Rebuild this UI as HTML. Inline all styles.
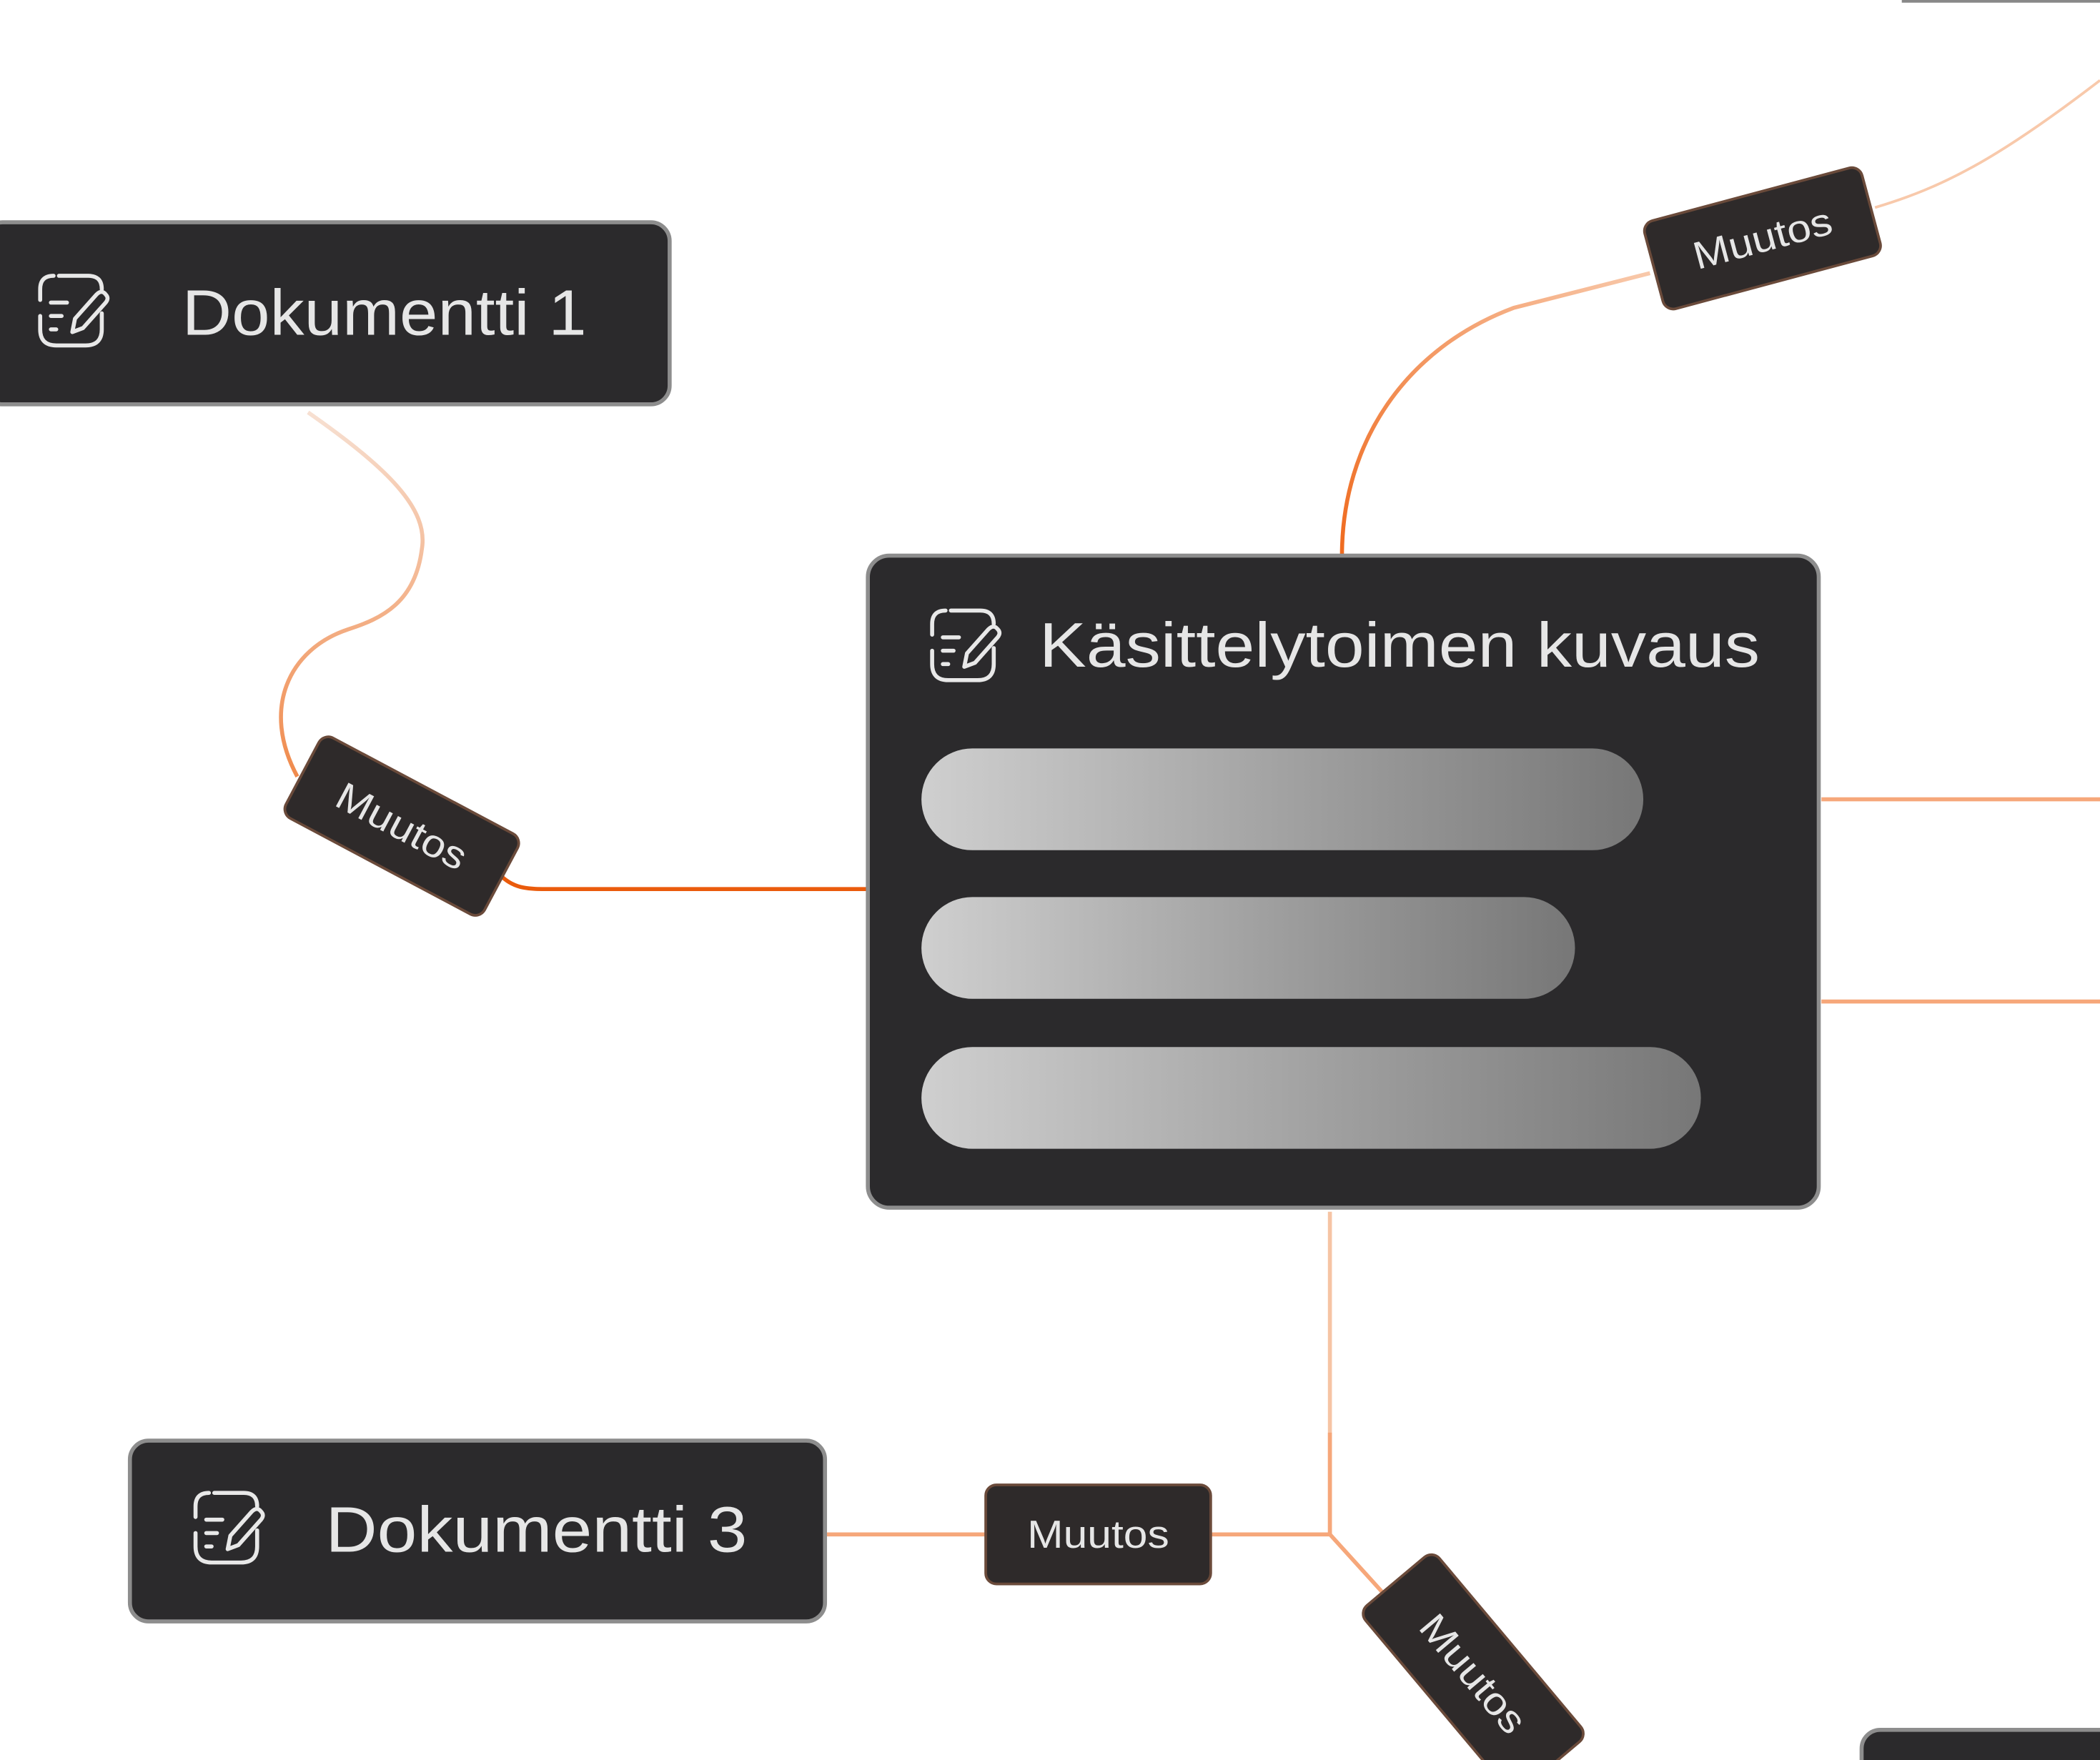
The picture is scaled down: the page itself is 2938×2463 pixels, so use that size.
<!DOCTYPE html>
<html><head><meta charset="utf-8"><style>
html,body{margin:0;padding:0;background:#fff;}
svg{display:block;}
text{font-family:"Liberation Sans",sans-serif;fill:#e6e6e6;}
</style></head><body>
<svg width="2938" height="2463" viewBox="0 0 1568 1314.5" preserveAspectRatio="none" xmlns="http://www.w3.org/2000/svg">
<defs>
<linearGradient id="bar" x1="0" x2="1" y1="0" y2="0">
<stop offset="0" stop-color="#cfcfcf"/><stop offset="0.5" stop-color="#a2a2a2"/><stop offset="1" stop-color="#777"/>
</linearGradient>
<linearGradient id="c1" x1="0" y1="0" x2="0" y2="1" gradientUnits="objectBoundingBox">
<stop offset="0" stop-color="#f7e0d2"/><stop offset="1" stop-color="#f08a4c"/>
</linearGradient>
<linearGradient id="c2" x1="0" y1="1" x2="1" y2="0">
<stop offset="0" stop-color="#ef6a1e"/><stop offset="1" stop-color="#f8c9ab"/>
</linearGradient>
<g id="icon" fill="none" stroke="#e8e8e8" stroke-width="3" stroke-linecap="round" stroke-linejoin="round">
<path d="M-8,-26 H14 Q24,-26 24,-16 M-22,-8 V-16 Q-22,-26 -12,-26"/>
<path d="M-22,4 V14 Q-22,26 -10,26 H12 Q24,26 24,14 V2"/>
<path d="M-14,-6 H-2 M-14,4 H-6 M-14,14 H-10"/>
<path d="M2,16 L4,6 L20,-12 Q24,-16 27,-12 Q30,-9 26,-5 L10,13 Z"/>
</g>
</defs>

<path d="M230,308 C290,350 320,380 315,410 C310,450 285,462 260,470 C215,485 195,530 222,580" fill="none" stroke="url(#c1)" stroke-width="3"/>
<path d="M375,655 C385,664 395,664 410,664 L648,664" fill="none" stroke="#ea5b0c" stroke-width="3"/>
<path d="M1002,415 C1002,330 1050,260 1130,230 L1232,204" fill="none" stroke="url(#c2)" stroke-width="3"/>
<path d="M1400,155 C1450,140 1490,120 1568,60" fill="none" stroke="#f8c9ab" stroke-width="2"/>
<path d="M1360,597 H1568 M1360,748 H1568" stroke="#f6a77a" stroke-width="3"/>
<path d="M993,905 V1146" stroke="#f6c4a4" stroke-width="3"/>
<path d="M993,1070 V1146 H904 M736,1146 H616 M993,1146 L1042,1200" fill="none" stroke="#f6a77a" stroke-width="3"/>
<path d="M1420,1 H1568" stroke="#888" stroke-width="2"/>

<rect x="-12" y="166" width="512" height="136" rx="14" fill="#2b2a2c" stroke="#8d8d8d" stroke-width="3"/>
<use href="#icon" x="52" y="232"/>
<text x="136" y="250" font-size="48" textLength="302" lengthAdjust="spacingAndGlyphs">Dokumentti 1</text>

<rect x="648" y="415" width="710" height="487" rx="16" fill="#2b2a2c" stroke="#8d8d8d" stroke-width="3"/>
<use href="#icon" x="718" y="482"/>
<text x="776" y="498" font-size="47" textLength="538" lengthAdjust="spacingAndGlyphs">Käsittelytoimen kuvaus</text>
<rect x="688" y="559" width="539" height="76" rx="38" fill="url(#bar)"/>
<rect x="688" y="670" width="488" height="76" rx="38" fill="url(#bar)"/>
<rect x="688" y="782" width="582" height="76" rx="38" fill="url(#bar)"/>

<rect x="97" y="1076" width="519" height="135" rx="14" fill="#2b2a2c" stroke="#8d8d8d" stroke-width="3"/>
<use href="#icon" x="168" y="1141"/>
<text x="243" y="1159" font-size="48" textLength="315" lengthAdjust="spacingAndGlyphs">Dokumentti 3</text>

<rect x="1390" y="1292" width="200" height="60" rx="14" fill="#2b2a2c" stroke="#8d8d8d" stroke-width="3"/>

<g transform="translate(820,1146)">
<rect x="-84" y="-37" width="168" height="74" rx="8" fill="#2e2a2a" stroke="#6a4a3a" stroke-width="2"/>
<text x="-53" y="10" font-size="29" textLength="106" lengthAdjust="spacingAndGlyphs">Muutos</text></g>
<g transform="translate(300,617) rotate(28)">
<rect x="-84" y="-34" width="168" height="68" rx="8" fill="#2e2a2a" stroke="#6a4a3a" stroke-width="2"/>
<text x="-53" y="10" font-size="29" textLength="106" lengthAdjust="spacingAndGlyphs">Muutos</text></g>
<g transform="translate(1316,178) rotate(-15)">
<rect x="-84" y="-34" width="168" height="68" rx="8" fill="#2e2a2a" stroke="#6a4a3a" stroke-width="2"/>
<text x="-53" y="10" font-size="29" textLength="106" lengthAdjust="spacingAndGlyphs">Muutos</text></g>
<g transform="translate(1100,1250) rotate(50)">
<rect x="-90" y="-36" width="180" height="72" rx="8" fill="#2e2a2a" stroke="#6a4a3a" stroke-width="2"/>
<text x="-53" y="10" font-size="29" textLength="106" lengthAdjust="spacingAndGlyphs">Muutos</text></g>
</svg>
</body></html>
